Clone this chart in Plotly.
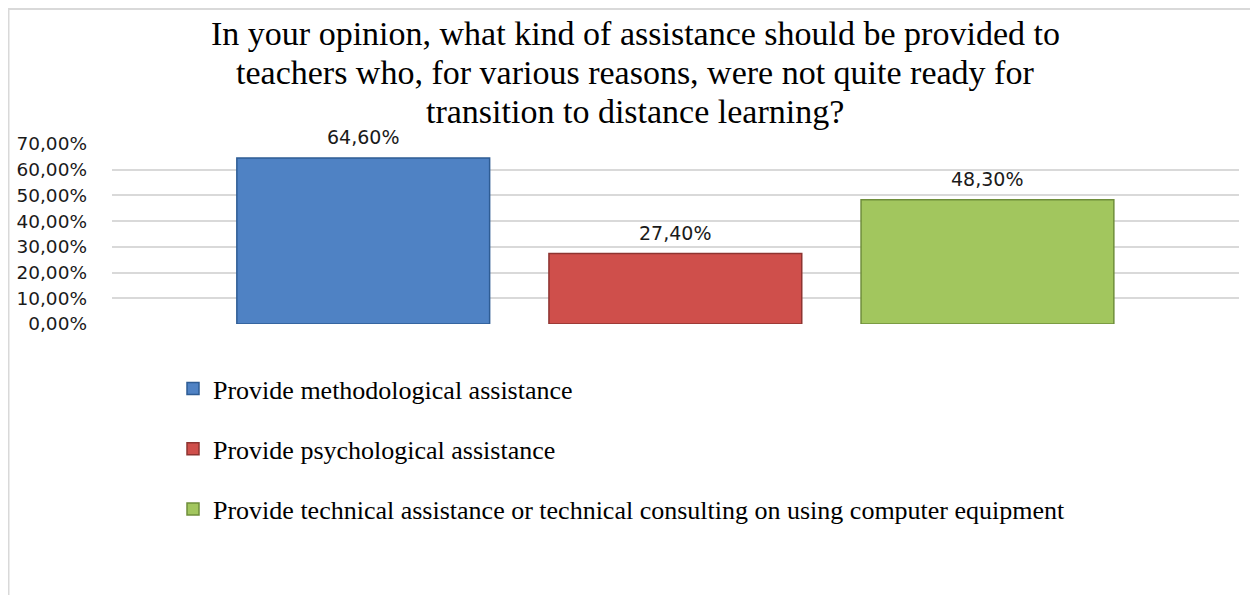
import plotly.graph_objects as go

series_names = [
    "Provide methodological assistance",
    "Provide psychological assistance",
    "Provide technical assistance or technical consulting on using computer equipment",
]
values = [0.646, 0.274, 0.483]
fill_colors = ["#4f82c4", "#cf4f4b", "#a2c65e"]
line_colors = ["#2e5c94", "#8e3431", "#6f8e3b"]
tick_values = [0, 0.1, 0.2, 0.3, 0.4, 0.5, 0.6, 0.7]
title_lines = [
    "In your opinion, what kind of assistance should be provided to",
    "teachers who, for various reasons, were not quite ready for",
    "transition to distance learning?",
]

# figure geometry (page body adds 8px offset)
W, H = 1250, 587
L, R, T, B = 104, 19, 136, 271
PW, PH = W - L - R, H - T - B


def px_x(px):
    return (px - L) / PW


def px_y(py):
    return (H - B - py) / PH


fig = go.Figure()
for i, (name, v, fc, lc) in enumerate(zip(series_names, values, fill_colors, line_colors)):
    fig.add_trace(go.Bar(
        x=[i], y=[v], name=name, width=0.81,
        marker=dict(color=fc, line=dict(color=lc, width=1.5)),
        legendgroup=f"g{i}",
        hoverinfo="skip",
    ))
    fig.add_annotation(
        x=i, y=v, text=f"{v*100:.2f}%".replace(".", ","),
        showarrow=False, yanchor="bottom", yshift=8,
        font=dict(family="DejaVu Sans", size=19, color="#1a1a1a"),
    )

title_centers = [25.5, 64.5, 103]
for line, cy in zip(title_lines, title_centers):
    fig.add_annotation(
        x=px_x(627), y=px_y(cy), xref="paper", yref="paper",
        text=line, showarrow=False, xanchor="center", yanchor="middle",
        font=dict(family="Liberation Serif", size=34, color="#000000"),
    )

fig.update_layout(
    width=W, height=H,
    paper_bgcolor="white", plot_bgcolor="white",
    margin=dict(l=L, r=R, t=T, b=B, autoexpand=False),
    separators=",.",
    xaxis=dict(range=[-0.805, 2.806], showticklabels=False, showgrid=False,
               zeroline=False, showline=False, fixedrange=True),
    yaxis=dict(range=[0, 0.7], tickvals=tick_values, tickformat=".2%",
               showgrid=True, gridcolor="#d9d9d9", gridwidth=2,
               zeroline=False, showline=False, ticks="",
               ticklabelstandoff=24,
               tickfont=dict(family="DejaVu Sans", size=18.5, color="#1a1a1a")),
    showlegend=True,
    legend=dict(
        x=px_x(165), xanchor="left",
        y=px_y(357), yanchor="top",
        orientation="v", traceorder="grouped", tracegroupgap=23.5,
        font=dict(family="Liberation Serif", size=26, color="#000000"),
        bgcolor="rgba(0,0,0,0)", itemwidth=30,
    ),
    shapes=[dict(
        type="rect", xref="paper", yref="paper",
        x0=px_x(0.5), x1=px_x(1248),
        y0=px_y(600), y1=px_y(1),
        line=dict(color="#d9d9d9", width=2), fillcolor="rgba(0,0,0,0)",
        layer="below",
    )],
)

fig.write_html("out.html")
